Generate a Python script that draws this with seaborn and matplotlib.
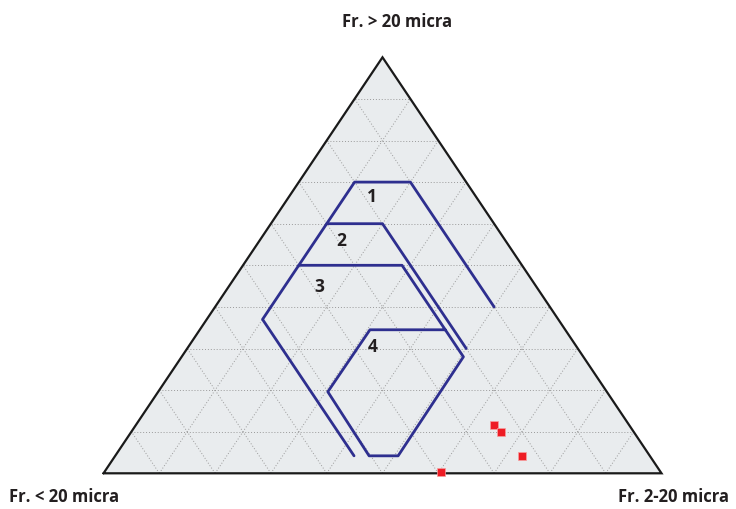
import numpy as np
import pandas as pd
import matplotlib
matplotlib.use("Agg")
import matplotlib.pyplot as plt
import seaborn as sns

sns.set_theme(style="white")
plt.rcParams['font.family'] = ['Open Sans', 'DejaVu Sans']

# ---- data (ternary fractions: t = Fr. > 20 micra (top), r = Fr. 2-20 micra (right)) ----
axis_top = "Fr. > 20 micra"
axis_left = "Fr. < 20 micra"
axis_right = "Fr. 2-20 micra"

# region boundary polylines, as (top, right) fraction pairs
line1_top = [0.40, 0.70, 0.70, 0.37, 0.042]
line1_right = [0.50, 0.20, 0.10, 0.10, 0.428]
line2_top = [0.60, 0.60, 0.30]
line2_right = [0.10, 0.20, 0.50]
line3_top = [0.50, 0.50, 0.28, 0.042, 0.042, 0.196, 0.345, 0.345]
line3_right = [0.10, 0.285, 0.505, 0.507, 0.455, 0.304, 0.305, 0.44]

# region labels
region_names = ["1", "2", "3", "4"]
region_top = [0.665, 0.559, 0.449, 0.304]
region_right = [0.149, 0.147, 0.162, 0.331]

# samples
sample_top = [0.116, 0.100, 0.041, 0.002]
sample_right = [0.642, 0.662, 0.730, 0.604]


def to_xy(top, right):
    top = np.asarray(top, float)
    right = np.asarray(right, float)
    return right + top / 2.0, top


W, H = 736, 509
fig = plt.figure(figsize=(W / 100, H / 100), dpi=100)
ax = fig.add_axes([103.5 / W, (H - 473.3) / H, 558 / W, 416 / H])
ax.set_xlim(0, 1)
ax.set_ylim(0, 1)
ax.axis("off")

# triangle fill
tri_x, tri_y = to_xy([0, 0, 1, 0], [0, 1, 0, 0])
ax.fill(tri_x, tri_y, color="#e9ecee", zorder=0, clip_on=False)

# dotted grid
grid_kw = dict(color="#9a9a9a", lw=0.7, ls=(0, (1, 2)), zorder=1, clip_on=False)
for k in range(1, 10):
    f = k / 10
    x, y = to_xy([f, f], [0, 1 - f])          # constant top
    ax.plot(x, y, **grid_kw)
    x, y = to_xy([0, 1 - f], [f, f])          # constant right
    ax.plot(x, y, **grid_kw)
    x, y = to_xy([0, 1 - f], [1 - f, 0])      # constant left
    ax.plot(x, y, **grid_kw)

ax.plot(tri_x, tri_y, color="#1a1a1a", lw=1.6, zorder=5, clip_on=False,
        solid_joinstyle="miter")

# region lines
for tops, rights in [(line1_top, line1_right), (line2_top, line2_right),
                     (line3_top, line3_right)]:
    x, y = to_xy(tops, rights)
    df = pd.DataFrame({"x": x, "y": y})
    sns.lineplot(data=df, x="x", y="y", sort=False, estimator=None,
                 color="#2e2f8f", lw=2.0, ax=ax, zorder=4)

# samples
sx, sy = to_xy(sample_top, sample_right)
sns.scatterplot(x=sx, y=sy, marker="s", s=32, color="#ee1c24",
                edgecolor="#f7a0a0", linewidth=0.5, ax=ax, zorder=6, clip_on=False)

# region labels
lx, ly = to_xy(region_top, region_right)
for name, x, y in zip(region_names, lx, ly):
    ax.text(x, y, name, ha="center", va="center", fontsize=12.5,
            fontweight="bold", color="#231f20", zorder=7)

ax.set_xlabel("")
ax.set_ylabel("")

# axis titles (figure-pixel placement)
title_kw = dict(fontsize=12, fontweight="bold", color="#231f20",
                ha="center", va="center")
fig.text(397 / W, 1 - 22 / H, axis_top, **title_kw)
fig.text(64 / W, 1 - 497 / H, axis_left, **title_kw)
fig.text(673 / W, 1 - 497 / H, axis_right, **title_kw)

fig.savefig("out.png", dpi=100)
